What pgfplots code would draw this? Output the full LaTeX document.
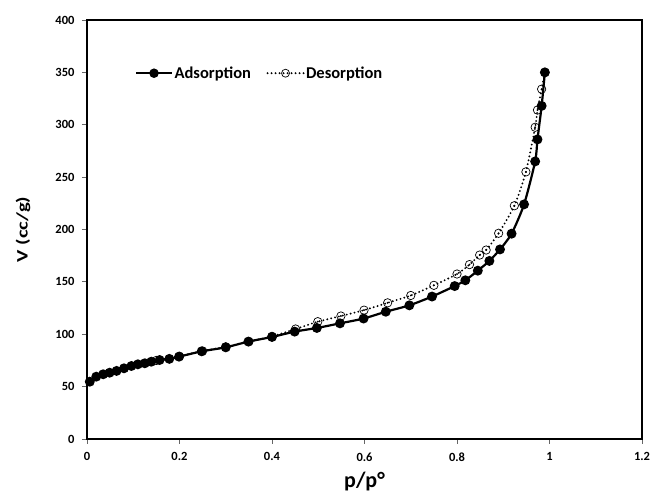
\documentclass[border=0pt]{standalone}
\usepackage{fontspec}
\setmainfont{Carlito}
\usepackage{pgfplots}
\pgfplotsset{compat=1.18}
\begin{document}
\begin{tikzpicture}[x=1pt,y=1pt]
\path[use as bounding box] (0,0) rectangle (652,494);
\begin{axis}[
  at={(87pt,55pt)}, anchor=south west,
  scale only axis, width=555pt, height=419pt,
  xmin=0, xmax=1.2, ymin=0, ymax=400,
  xtick={0,0.2,0.4,0.6,0.8,1,1.2},
  ytick={0,50,100,150,200,250,300,350,400},
  tick align=outside, xtick pos=left, ytick pos=left,
  major tick length=5pt,
  every tick/.style={black!60, line width=0.8pt},
  axis line style={line width=2pt},
  tick label style={font=\fontsize{12.5}{15}\selectfont\bfseries},
  yticklabel style={xshift=-4pt},
  xticklabel style={yshift=-5pt},
  /pgf/number format/assume math mode=true,
  xlabel={p/p°},
  ylabel={\scalebox{1.3}[1]{V (cc/g)}},
  every axis x label/.style={at={(axis description cs:0.5,0)}, anchor=center, yshift=-43pt, font=\fontsize{22}{24}\selectfont\bfseries},
  every axis y label/.style={at={(axis description cs:0,0.5)}, rotate=90, anchor=center, yshift=64pt, font=\fontsize{16}{18}\selectfont\bfseries},
  legend columns=2,
  legend style={draw=none, fill=none, inner sep=0pt, at={(axis description cs:0.086,0.873)}, anchor=west,
    font=\fontsize{16.5}{18}\selectfont\bfseries,
    nodes={inner xsep=1.5pt},
    /tikz/every even column/.append style={column sep=14pt}},
  legend image code/.code={\draw[mark repeat=2,mark phase=2] plot coordinates {(0pt,0pt)(18pt,0pt)(36pt,0pt)};},
]
\addlegendimage{black, line width=2.2pt, mark=*, mark size=3.6pt, mark options={solid, fill=black}}
\addlegendentry{Adsorption}
\addlegendimage{black, line width=2.1pt, line cap=round, dash pattern=on 0pt off 4pt,
  mark=o, mark size=4pt, mark options={solid, line width=0.7pt, fill=white, draw=black}}
\addlegendentry{Desorption}
% Desorption
\addplot[forget plot, black, line width=2.1pt, line cap=round, dash pattern=on 0pt off 4pt, smooth, tension=0.4,
  mark=o, mark size=4.2pt, mark options={solid, line width=0.7pt, fill=white, draw=black}] coordinates {
(0.15,75) (0.2,79) (0.25,84) (0.3,88) (0.35,93) (0.40,98) (0.451,105) (0.499,112) (0.549,117.4)
(0.599,123) (0.65,130) (0.70,137) (0.75,146.7) (0.80,157.5) (0.827,166.5) (0.849,175.6) (0.863,180.4)
(0.89,196.4) (0.924,222.7) (0.949,255) (0.969,297.6) (0.974,314) (0.983,334) (0.99,350)
};
\addplot[forget plot, only marks, black, mark=*, mark size=0.7pt] coordinates {
(0.15,75) (0.2,79) (0.25,84) (0.3,88) (0.35,93) (0.40,98) (0.451,105) (0.499,112) (0.549,117.4)
(0.599,123) (0.65,130) (0.70,137) (0.75,146.7) (0.80,157.5) (0.827,166.5) (0.849,175.6) (0.863,180.4)
(0.89,196.4) (0.924,222.7) (0.949,255) (0.969,297.6) (0.974,314) (0.983,334) (0.99,350)
};
% Adsorption
\addplot[forget plot, black, line width=2.2pt, smooth, tension=0.4, mark=*, mark size=3.8pt, mark options={solid, fill=black}] coordinates {
(0.006,54.7) (0.02,59.5) (0.035,61.8) (0.049,63.3) (0.064,65) (0.08,67.5) (0.096,69.7) (0.11,71.3)
(0.125,72.3) (0.139,73.8) (0.157,75.4) (0.178,76.5) (0.199,78.6) (0.248,83.7) (0.30,87.5) (0.349,93)
(0.40,97.4) (0.449,102.5) (0.497,106) (0.547,110.4) (0.598,115) (0.646,121.5) (0.697,127.6) (0.746,136)
(0.795,146) (0.818,151.5) (0.845,160.7) (0.87,170) (0.893,181) (0.918,196) (0.945,224) (0.969,265)
(0.974,286) (0.983,318) (0.99,350)
};
\end{axis}
\end{tikzpicture}
\end{document}
